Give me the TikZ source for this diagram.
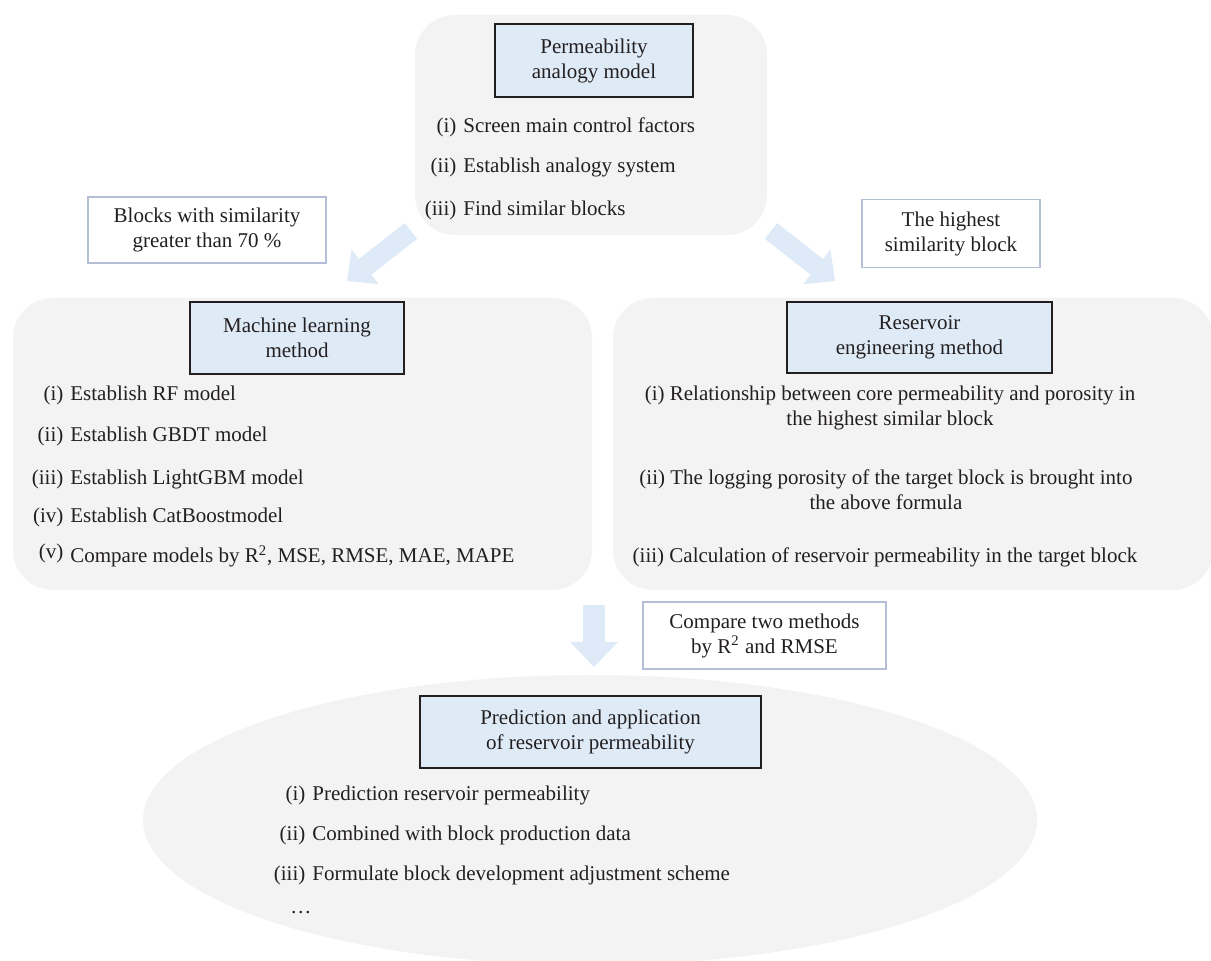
\documentclass[tikz,border=0pt]{standalone}
\usepackage{fontspec}
\setmainfont{Liberation Serif}
\usetikzlibrary{arrows.meta,shapes.geometric}
\definecolor{panelgray}{RGB}{243,243,243}
\definecolor{titleblue}{RGB}{222,235,247}
\definecolor{tagline}{RGB}{180,190,215}
\definecolor{flowblue}{RGB}{222,234,247}
\definecolor{inkdark}{RGB}{35,31,32}
\newcommand{\itm}[2]{\llap{#1\hspace{3.5pt}}#2}
\begin{document}
\begin{tikzpicture}
  [x=0.5pt,y=-0.5pt,font=\fontsize{10.5}{12.5}\selectfont,text=inkdark,
   panel/.style={fill=panelgray,rounded corners=20pt,inner sep=0pt},
   head/.style={draw=inkdark,line width=1pt,fill=titleblue,align=center,inner sep=0pt},
   tag/.style={draw=tagline,line width=0.8pt,fill=white,align=center,inner sep=0pt},
   item/.style={anchor=base west,inner sep=0pt},
   flow/.style={draw=flowblue,line width=11pt,-{Triangle[width=24pt,length=12.5pt,line width=0pt]}},
   slant/.style={flow,line width=10pt,-{Triangle[width=22pt,length=11.5pt,line width=0pt]}}]
  \useasboundingbox (0,0) rectangle (1211,961);

  \node (pam) [panel,minimum width=176pt,minimum height=110pt] at (591,125) {};
  \node (mlm) [panel,minimum width=289.5pt,minimum height=146pt] at (302.5,444) {};
  \node (rem) [panel,minimum width=300pt,minimum height=146pt] at (913,444) {};
  \node (pap) [ellipse,fill=panelgray,inner sep=0pt,minimum width=447pt,minimum height=145pt] at (590,820) {};

  \coordinate (la) at (411,231);
  \coordinate (lb) at (347,281);
  \coordinate (ra) at (771,231);
  \coordinate (rb) at (835,281);
  \coordinate (da) at (594,605);
  \coordinate (db) at (594,667);
  \draw[slant] (la) -- (lb);
  \draw[slant] (ra) -- (rb);
  \draw[flow] (da) -- (db);

  \node (pamt) [head,minimum width=99pt,minimum height=36.5pt] at (594,60.5) {Permeability\\analogy model};
  \node (mlmt) [head,minimum width=107pt,minimum height=36pt] at (297,338) {Machine learning\\method};
  \node (remt) [head,minimum width=132.5pt,minimum height=35.5pt] at (919.5,337.5) {Reservoir\\engineering method};
  \node (papt) [head,minimum width=170.5pt,minimum height=36pt] at (590.5,732) {Prediction and application\\of reservoir permeability};

  \node (simtag) [tag,minimum width=119pt,minimum height=33pt] at (207,230) {Blocks with similarity\\greater than 70 \%};
  \node (hightag) [tag,minimum width=89pt,minimum height=34pt] at (951,233.5) {The highest\\similarity block};
  \node (cmptag) [tag,minimum width=121.5pt,minimum height=33.5pt] at (764.5,635.5) {Compare two methods\\by R\textsuperscript{2} and RMSE};

  \node (pam1) [item] at (463,133) {\itm{(i)}{Screen main control factors}};
  \node (pam2) [item] at (463,173) {\itm{(ii)}{Establish analogy system}};
  \node (pam3) [item] at (463,216) {\itm{(iii)}{Find similar blocks}};

  \node (mlm1) [item] at (70,401) {\itm{(i)}{Establish RF model}};
  \node (mlm2) [item] at (70,442) {\itm{(ii)}{Establish GBDT model}};
  \node (mlm3) [item] at (70,485) {\itm{(iii)}{Establish LightGBM model}};
  \node (mlm4) [item] at (70,523) {\itm{(iv)}{Establish CatBoostmodel}};
  \node (mlm5) [item] at (70,563) {\itm{\raisebox{2pt}{(v)}}{Compare models by R\textsuperscript{2}, MSE, RMSE, MAE, MAPE}};

  \node (rem1) [align=center,inner sep=0pt] at (890,407.5) {(i) Relationship between core permeability and porosity in\\the highest similar block};
  \node (rem2) [align=center,inner sep=0pt] at (886,490) {(ii) The logging porosity of the target block is brought into\\the above formula};
  \node (rem3) [align=center,inner sep=0pt] at (885,557) {(iii) Calculation of reservoir permeability in the target block};

  \node (pap1) [item] at (312,801) {\itm{(i)}{Prediction reservoir permeability}};
  \node (pap2) [item] at (312,841) {\itm{(ii)}{Combined with block production data}};
  \node (pap3) [item] at (312,881) {\itm{(iii)}{Formulate block development adjustment scheme}};
  \node (pap4) [item] at (290,914) {\dots};
\end{tikzpicture}
\end{document}
